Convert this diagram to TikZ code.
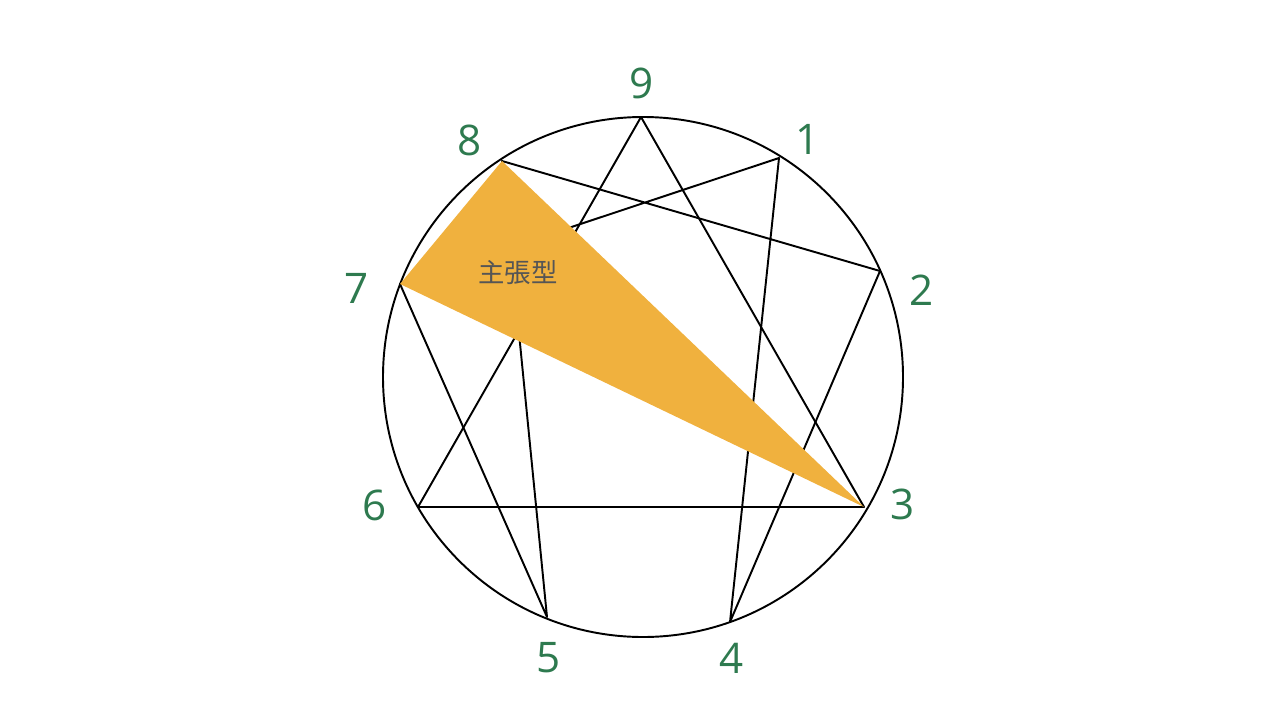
\documentclass[tikz,border=0pt]{standalone}
\usepackage{fontspec}
\setmainfont{Open Sans}
\newfontfamily\jpfont{Noto Sans CJK JP}
\usepackage{xcolor}
\usepackage{tikz}
\usetikzlibrary{positioning}

\definecolor{numgreen}{HTML}{2E7A4F}
\definecolor{typeorange}{HTML}{F0B13E}
\definecolor{typegray}{HTML}{555555}

\tikzset{
  num/.style={text=numgreen, font=\fontsize{24}{28}\selectfont, inner sep=0pt},
  edge/.style={line width=1.1pt, black, line join=round},
}

\begin{document}
\begin{tikzpicture}[x=0.02cm, y=-0.02cm]
  \useasboundingbox (0,0) rectangle (1280,720);

  \coordinate (P9) at (641,117);
  \coordinate (P1) at (779,158);
  \coordinate (P2) at (880,271);
  \coordinate (P3) at (864,507);
  \coordinate (P4) at (730,622);
  \coordinate (P5) at (547,617);
  \coordinate (P6) at (418,507);
  \coordinate (P7) at (400,284);
  \coordinate (P8) at (502,161);

  \draw [edge] (643,377) circle (260);

  \draw [edge] (P9) -- (P3) -- (P6) -- cycle;
  \draw [edge] (P1) -- (P4) -- (P2) -- (P8) -- (P5) -- (P7) -- cycle;

  \fill [typeorange] (P8) -- (P7) -- (P3) -- cycle;

  \node [text=typegray, font=\jpfont\fontsize{15}{18}\selectfont] (type) at (518,273) {主張型};

  \node [num] (L9) at (642,83) {9};
  \node [num] (L1) at (808,139) {1};
  \node [num] (L2) at (922,290) {2};
  \node [num] (L3) at (903,504) {3};
  \node [num] (L4) at (732,658) {4};
  \node [num] (L5) at (549,658) {5};
  \node [num] (L6) at (375,505) {6};
  \node [num] (L7) at (357,288) {7};
  \node [num] (L8) at (470,140) {8};
\end{tikzpicture}
\end{document}
